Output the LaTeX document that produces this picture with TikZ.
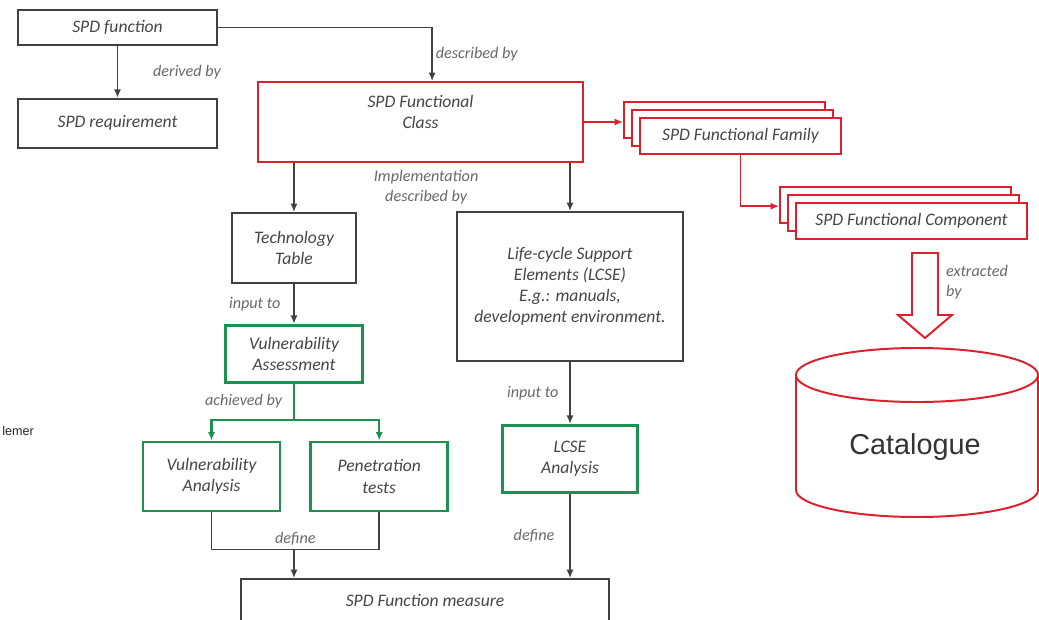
\documentclass[tikz,border=0pt]{standalone}
\usepackage{fontspec}
\setmainfont{Carlito}
\newfontfamily\arialfont{Liberation Sans}
\usepackage{tikz}
\usetikzlibrary{arrows.meta, positioning, shadows}
\definecolor{spdred}{RGB}{222,32,44}
\definecolor{spdgreen}{RGB}{28,146,82}
\definecolor{spdgray}{RGB}{65,65,65}
\definecolor{spdtext}{RGB}{70,70,70}
\definecolor{lbltext}{RGB}{105,105,105}
\tikzset{
  box/.style={rectangle, draw=spdgray, fill=white, align=center,
    font=\itshape\fontsize{12.5}{15}\selectfont, text=spdtext,
    inner sep=1pt, line width=1.2pt},
  redbox/.style={box, draw=spdred},
  greenbox/.style={box, draw=spdgreen, line width=1.9pt},
  stackbox/.style={redbox,
    copy shadow={shadow xshift=-0.4cm, shadow yshift=0.4cm, draw=spdred, fill=white},
    copy shadow={shadow xshift=-0.2cm, shadow yshift=0.2cm, draw=spdred, fill=white}},
  lbl/.style={font=\itshape\fontsize{11.5}{14}\selectfont, text=lbltext, inner sep=2pt},
  arrow/.style={-{Latex[length=6pt,width=5pt]}, line width=1.2pt, color=spdgray},
  line/.style={line width=1.2pt, color=spdgray},
  redarrow/.style={arrow, color=spdred},
  greenarrow/.style={arrow, color=spdgreen, line width=1.5pt},
  greenline/.style={line, color=spdgreen, line width=1.5pt},
  hollow/.style={draw=spdred, line width=1.4pt, fill=white, line join=miter},
  cyl/.style={draw=spdred, line width=1.4pt}
}

\begin{document}
\begin{tikzpicture}[x=0.025cm, y=-0.025cm]
  \useasboundingbox (0,0) rectangle (1039,619);
  \node[box, minimum width=4.975cm, minimum height=0.875cm] (fn) at (117.5,27.5) {SPD function};
  \node[box, minimum width=4.975cm, minimum height=1.225cm, below=1.3cm of fn] (req) {SPD requirement};
  \node[redbox, minimum width=8.125cm, minimum height=2cm] (fclass) at (420.5,122) {SPD Functional\\Class\\~};
  \node[stackbox, minimum width=5.025cm, minimum height=0.9cm] (family) at (740.5,136) {SPD Functional Family};
  \node[stackbox, minimum width=5.775cm, minimum height=0.9cm] (comp) at (911.5,221) {SPD Functional Component};
  \node[box, minimum width=3.1cm, minimum height=1.75cm] (tech) at (294,248) {Technology\\Table};
  \node[greenbox, minimum width=3.425cm, minimum height=1.425cm, below=1cm of tech] (vassess) {Vulnerability\\Assessment};
  \node[greenbox, minimum width=3.425cm, minimum height=1.725cm] (vanal) at (211.5,476.5) {Vulnerability\\Analysis};
  \node[greenbox, minimum width=3.425cm, minimum height=1.725cm, right=0.7cm of vanal] (pentest) {Penetration\\tests};
  \node[box, minimum width=5.65cm, minimum height=3.725cm] (lcse) at (570,286.5) {Life-cycle Support\\Elements (LCSE)\\E.g.: manuals,\\development environment.};
  \node[greenbox, minimum width=3.375cm, minimum height=1.675cm, below=1.55cm of lcse] (lanal) {LCSE\\Analysis};
  \node[box, minimum width=9.2cm, minimum height=1.05cm] (measure) at (425,600) {SPD Function measure};
  \node[lbl, align=center, below=0.12cm of fclass, xshift=0.14cm] (impl) {Implementation\\described by};
  \node[font=\arialfont\fontsize{9}{10}\selectfont, anchor=west, inner sep=0pt, text=black!85] (lemer) at (2,431) {lemer};

  \coordinate[xshift=-0.4cm] (famin) at (family.west |- fclass.east);
  \coordinate[xshift=-0.4cm, yshift=0.37cm] (compin) at (comp.west);
  \coordinate[below=0.9cm of vassess.south] (split);
  \coordinate[below=0.925cm of vanal.south] (jl);

  \draw[arrow] (fn) -- node[lbl, right=0.8cm] {derived by} (req);
  \draw[arrow] (fn.east) -| node[lbl, pos=0.75, right] {described by} ([xshift=0.29cm]fclass.north);
  \draw[arrow] (tech.north |- fclass.south) -- (tech);
  \draw[arrow] (lcse.north |- fclass.south) -- (lcse);
  \draw[redarrow] (fclass.east) -- (famin);
  \draw[redarrow] (family.south) |- (compin);
  \draw[arrow] (tech.south) -- node[lbl, left=0.25cm] {input to} (tech.south |- vassess.north);
  \draw[greenline] (vassess) -- node[lbl, left=0.2cm] {achieved by} (split);
  \draw[greenarrow] (split) -| (vanal);
  \draw[greenarrow] (split) -| (pentest);
  \draw[line] (vanal) |- node[lbl, pos=0.75, above] {define} (jl -| pentest) -- (pentest);
  \draw[arrow] (vassess |- jl) -- (vassess |- measure.north);
  \draw[arrow] (lcse) -- node[lbl, left=0.2cm] {input to} (lanal);
  \draw[arrow] (lanal) -- node[lbl, left=0.3cm] {define} (lanal |- measure.north);

  \draw[hollow] (912,253) -- (938,253) -- (938,315) -- (952,315) -- (925,338) -- (898,315) -- (912,315) -- cycle;
  \node[lbl, align=left, anchor=north west] (extr) at (943,262) {extracted\\by};
  \draw[cyl] (796,375) -- (796,490) arc[start angle=180, end angle=360, x radius=3.025cm, y radius=0.675cm] -- (1038,375);
  \draw[cyl] (917,375) ellipse [x radius=3.025cm, y radius=0.675cm];
  \node[font=\arialfont\fontsize{20.5}{24}\selectfont, text=black!80] (cat) at (915,447) {Catalogue};
\end{tikzpicture}
\end{document}
